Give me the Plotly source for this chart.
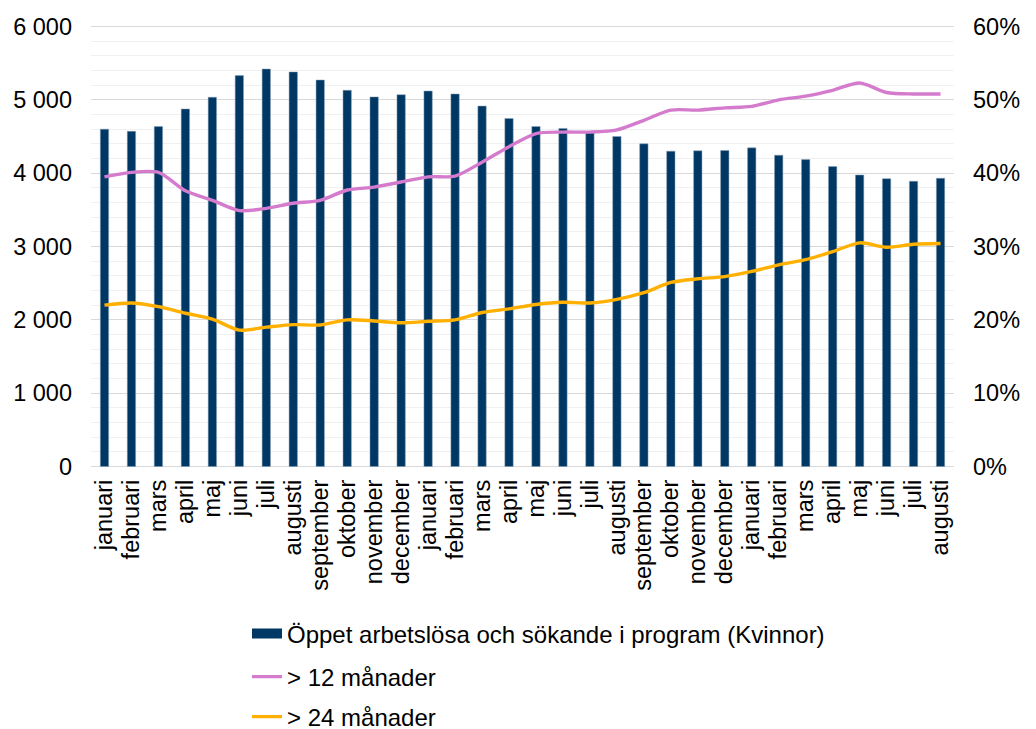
import plotly.graph_objects as go

months = ["januari", "februari", "mars", "april", "maj", "juni", "juli", "augusti",
          "september", "oktober", "november", "december",
          "januari", "februari", "mars", "april", "maj", "juni", "juli", "augusti",
          "september", "oktober", "november", "december",
          "januari", "februari", "mars", "april", "maj", "juni", "juli", "augusti"]

total = [4600, 4570, 4635, 4875, 5035, 5330, 5420, 5380, 5270, 5130, 5040, 5070,
         5120, 5080, 4915, 4745, 4635, 4610, 4560, 4500, 4400, 4300, 4305, 4310,
         4345, 4245, 4185, 4090, 3975, 3925, 3890, 3930]

over12 = [39.5, 40.1, 40.1, 37.6, 36.3, 34.9, 35.2, 35.9, 36.3, 37.7, 38.1, 38.8,
          39.5, 39.6, 41.5, 43.6, 45.4, 45.6, 45.6, 45.9, 47.2, 48.6, 48.6, 48.9,
          49.1, 50.0, 50.5, 51.3, 52.3, 51.0, 50.8, 50.8]

over24 = [22.0, 22.3, 21.8, 20.9, 20.1, 18.6, 19.0, 19.35, 19.3, 20.0, 19.85, 19.6,
          19.8, 20.0, 21.0, 21.5, 22.1, 22.4, 22.3, 22.8, 23.7, 25.1, 25.6, 25.9,
          26.6, 27.5, 28.2, 29.3, 30.5, 29.9, 30.3, 30.4]

y_tickvals = [0, 1000, 2000, 3000, 4000, 5000, 6000]
y_ticktext = ["0", "1 000", "2 000", "3 000", "4 000", "5 000", "6 000"]
y2_tickvals = [0, 10, 20, 30, 40, 50, 60]
y2_ticktext = ["0%", "10%", "20%", "30%", "40%", "50%", "60%"]

names = ["Öppet arbetslösa och sökande i program (Kvinnor)", "> 12 månader", "> 24 månader"]

NAVY = "#003865"
PINK = "#D57BCD"
ORANGE = "#FFB000"
FONT = "Liberation Sans, Arial, sans-serif"
FS = 23.5
LFS = 24

W, H = 1028, 729  # page body adds an 8px offset

x = list(range(len(months)))

fig = go.Figure()
fig.add_trace(go.Bar(x=x, y=total, width=0.31, marker=dict(color=NAVY, line=dict(color="#8aa0b6", width=0.5)),
                     showlegend=False, name=names[0]))
fig.add_trace(go.Scatter(x=x, y=over12, yaxis="y2", mode="lines", line=dict(color=PINK, width=3.4, shape="spline", smoothing=0.8),
                         name=names[1], legend="legend2"))
fig.add_trace(go.Scatter(x=x, y=over24, yaxis="y2", mode="lines", line=dict(color=ORANGE, width=3.4, shape="spline", smoothing=0.8),
                         name=names[2], legend="legend3"))
# legend-only swatch for the bar series
fig.add_trace(go.Scatter(x=[None], y=[None], mode="lines", line=dict(color=NAVY, width=10),
                         name=names[0], legend="legend"))

leg_common = dict(xref="container", yref="container", xanchor="left", yanchor="middle",
                  font=dict(family=FONT, size=LFS, color="#000"), bgcolor="rgba(0,0,0,0)",
                  itemwidth=30)
lx = 239 / W
pad = 20  # small padding (>1px) so the edge gridlines are drawn
fig.update_layout(
    width=W, height=H,
    margin=dict(l=83, r=82, t=17, b=269, autoexpand=False),
    paper_bgcolor="white", plot_bgcolor="white",
    font=dict(family=FONT, size=FS, color="#000"),
    xaxis=dict(tickmode="array", tickvals=x, ticktext=months, tickangle=-90,
               range=[-0.5, len(months) - 0.5], showgrid=False, zeroline=False,
               ticks="", ticklabelstandoff=6, tickfont=dict(size=FS), automargin=False),
    yaxis=dict(range=[-pad, 6000 + pad], tickmode="array", tickvals=y_tickvals, ticktext=y_ticktext,
               showgrid=True, gridcolor="#d9d9d9", gridwidth=1.3, zeroline=False,
               minor=dict(dtick=200, showgrid=True, gridcolor="#f0f0f0", gridwidth=1),
               ticks="", ticklabelstandoff=18, tickfont=dict(size=FS), automargin=False),
    yaxis2=dict(range=[-pad / 100, 60 + pad / 100], overlaying="y", side="right", tickmode="array",
                tickvals=y2_tickvals, ticktext=y2_ticktext, showgrid=False, zeroline=False,
                ticks="", ticklabelstandoff=18, tickfont=dict(size=FS), automargin=False),
    legend=dict(x=lx, y=1 - 626 / H, **leg_common),
    legend2=dict(x=lx, y=1 - 669 / H, **leg_common),
    legend3=dict(x=lx, y=1 - 709 / H, **leg_common),
    bargap=0.69,
)

fig.write_html("out.html")
